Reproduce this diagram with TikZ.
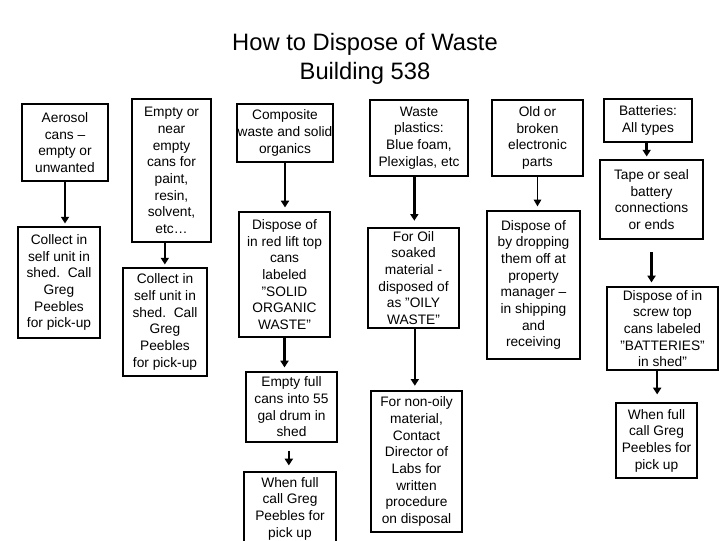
\documentclass[tikz,border=0pt]{standalone}
\usepackage{fontspec}
\setmainfont{Liberation Sans}
\usetikzlibrary{arrows.meta}
\newcommand{\dq}{\symbol{34}}
\tikzset{
  wbox/.style={draw, line width=0.9pt, align=center, inner sep=0pt,
    font=\fontsize{10.3}{12.5}\selectfont},
  arr/.style={line width=1.9pt, -{Triangle[width=6pt,length=5pt]}},
  thinarr/.style={line width=1.1pt, -{Triangle[width=5.5pt,length=5pt]}},
}
\newcommand{\bx}[6]{\node[wbox, minimum width=#4*0.75pt, minimum height=#5*0.75pt] (#1) at (#2,#3) {#6};}
\begin{document}
\begin{tikzpicture}[x=0.75pt,y=-0.75pt]
\useasboundingbox (0,0) rectangle (720,540);
\node[align=center, font=\fontsize{17.8}{21.75}\selectfont] (title) at (365,59) {How to Dispose of Waste\\Building 538};
% column 1
\bx{aero}{65}{142.5}{86}{77}{Aerosol\\cans --\\empty or\\unwanted}
\bx{coll1}{59}{282.5}{82}{111}{Collect in\\self unit in\\shed.\ \ Call\\Greg\\Peebles\\for pick-up}
% column 2
\bx{emp}{171.5}{170.5}{79}{143}{Empty or\\near\\empty\\cans for\\paint,\\resin,\\solvent,\\etc…}
\bx{coll2}{165}{322}{84}{108}{Collect in\\self unit in\\shed.\ \ Call\\Greg\\Peebles\\for pick-up}
% column 3
\bx{comp}{285}{133}{96}{58}{Composite\\waste and solid\\organics}
\bx{disp1}{284.5}{274.5}{91}{125}{Dispose of\\in red lift top\\cans\\labeled\\\dq SOLID\\ORGANIC\\WASTE\dq}
\bx{empf}{291.5}{407}{91}{70}{Empty full\\cans into 55\\gal drum in\\shed}
\bx{when1}{290}{508.5}{92}{73}{When full\\call Greg\\Peebles for\\pick up}
% column 4
\bx{wplas}{419}{138}{98}{76}{Waste\\plastics:\\Blue foam,\\Plexiglas, etc}
\bx{oil}{413.5}{278}{91}{100}{For Oil\\soaked\\material -\\disposed of\\as \dq OILY\\WASTE\dq}
\bx{nonoily}{416.5}{461.5}{91}{141}{For non-oily\\material,\\Contact\\Director of\\Labs for\\written\\procedure\\on disposal}
% column 5
\bx{old}{537.5}{138}{91}{76}{Old or\\broken\\electronic\\parts}
\bx{disp3}{533.5}{285}{93}{148}{Dispose of\\by dropping\\them off at\\property\\manager --\\in shipping\\and\\receiving}
% column 6
\bx{batt}{648}{120.5}{88}{43}{Batteries:\\All types}
\bx{tape}{651.5}{199.5}{103}{79}{Tape or seal\\battery\\connections\\or ends}
\bx{disp4}{662.5}{328.5}{111}{83}{Dispose of in\\screw top\\cans labeled\\\dq BATTERIES\dq\\in shed\dq}
\bx{when2}{656.5}{440.5}{81}{75}{When full\\call Greg\\Peebles for\\pick up}
% arrows
\draw[arr, shorten >=2.2pt] (aero.south) -- (aero.south |- coll1.north);
\draw[arr, shorten >=2.2pt] ([xshift=-5pt]emp.south) -- ([xshift=-5pt]emp.south |- coll2.north);
\draw[arr, shorten >=3pt] (comp.south) -- (comp.south |- disp1.north);
\draw[arr, shorten >=3pt] (disp1.south) -- (disp1.south |- empf.north);
\draw[arr, shorten <=6pt, shorten >=4.5pt] ([xshift=-2pt]empf.south) -- ([xshift=-2pt]empf.south |- when1.north);
\draw[arr, shorten >=5pt] ([xshift=-3.5pt]wplas.south) -- ([xshift=-3.5pt]wplas.south |- oil.north);
\draw[arr, shorten >=3.5pt] ([xshift=1pt]oil.south) -- ([xshift=1pt]oil.south |- nonoily.north);
\draw[thinarr, shorten >=3pt] (old.south) -- (old.south |- disp3.north);
\draw[arr, shorten >=2.2pt] ([xshift=-1pt]batt.south) -- ([xshift=-1pt]batt.south |- tape.north);
\draw[arr, shorten <=9.5pt, shorten >=3pt] (tape.south) -- (tape.south |- disp4.north);
\draw[arr, shorten >=6pt] ([xshift=-4pt]disp4.south) -- ([xshift=-4pt]disp4.south |- when2.north);
\end{tikzpicture}
\end{document}
